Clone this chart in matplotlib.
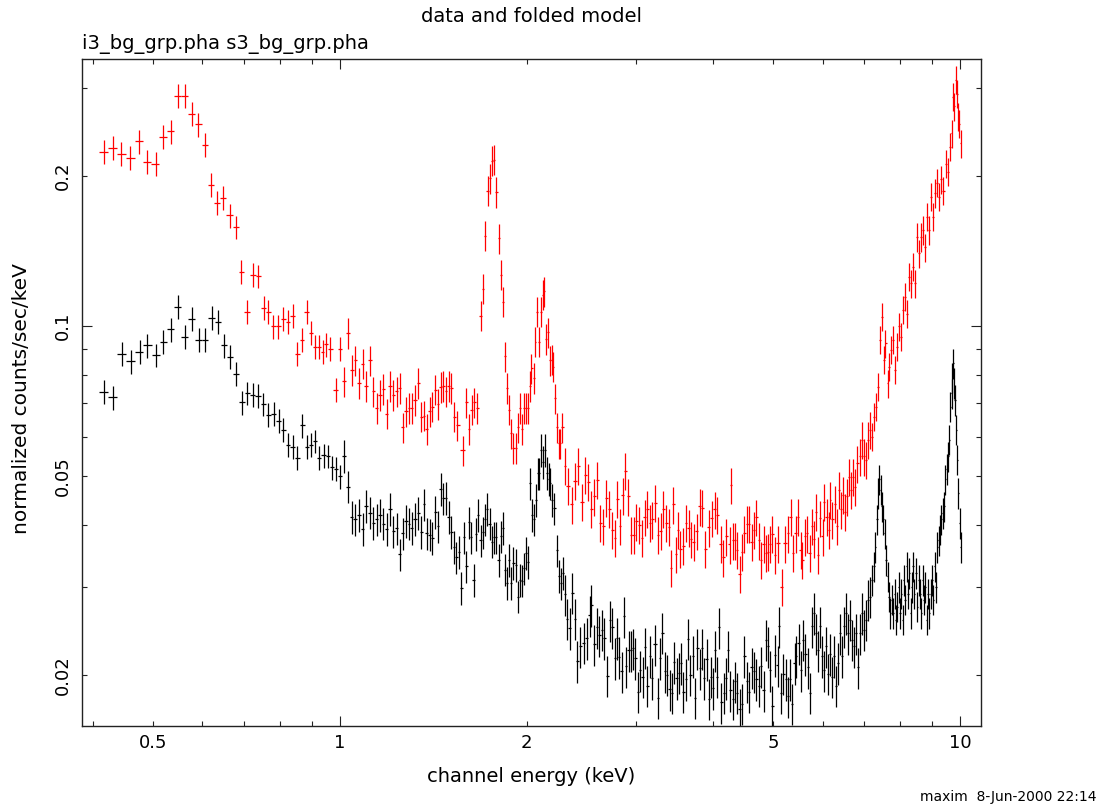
import numpy as np
import matplotlib
matplotlib.use("Agg")
import matplotlib.pyplot as plt
from matplotlib.ticker import FixedLocator, FixedFormatter

# red spectrum (upper), channel energy in keV and normalized counts/sec/keV
red_e = [0.416, 0.430, 0.444, 0.459, 0.474, 0.489, 0.504, 0.519, 0.533, 0.548,
         0.562, 0.577, 0.591, 0.605, 0.619, 0.634, 0.648, 0.664, 0.679, 0.693,
         0.709, 0.724, 0.738, 0.753, 0.766, 0.781, 0.795, 0.810, 0.824, 0.839,
         0.853, 0.868, 0.884, 0.897, 0.910, 0.924, 0.938, 0.950, 0.963, 0.985,
         1.000, 1.015, 1.030, 1.045, 1.058, 1.073, 1.088, 1.102, 1.118, 1.131,
         1.146, 1.160, 1.174, 1.189, 1.204, 1.219, 1.234, 1.248, 1.262, 1.278,
         1.292, 1.306, 1.321, 1.336, 1.351, 1.366, 1.381, 1.395, 1.409, 1.424,
         1.439, 1.454, 1.468, 1.483, 1.498, 1.512, 1.527, 1.546, 1.577, 1.599,
         1.614, 1.630, 1.647, 1.663, 1.686, 1.700, 1.715, 1.730, 1.745, 1.760,
         1.773, 1.786, 1.805, 1.818, 1.832, 1.848, 1.862, 1.876, 1.890, 1.904,
         1.921, 1.935, 1.950, 1.964, 1.979, 1.994, 2.009, 2.024, 2.036, 2.052,
         2.066, 2.079, 2.094, 2.110, 2.123, 2.136, 2.152, 2.165, 2.181, 2.195,
         2.208, 2.225, 2.238, 2.253, 2.267, 2.284, 2.303, 2.333, 2.364, 2.394,
         2.424, 2.455, 2.486, 2.515, 2.543, 2.571, 2.599, 2.624, 2.658, 2.689,
         2.717, 2.750, 2.776, 2.802, 2.829, 2.857, 2.886, 2.917, 2.945, 2.975,
         3.007, 3.036, 3.07, 3.10, 3.13, 3.16, 3.19, 3.22, 3.26, 3.29,
         3.32, 3.36, 3.39, 3.42, 3.45, 3.48, 3.51, 3.54, 3.58, 3.61,
         3.65, 3.68, 3.72, 3.76, 3.80, 3.84, 3.88, 3.93, 3.98, 4.02,
         4.06, 4.11, 4.15, 4.20, 4.25, 4.27, 4.30, 4.34, 4.37, 4.41,
         4.45, 4.49, 4.53, 4.57, 4.61, 4.65, 4.69, 4.74, 4.78, 4.82,
         4.86, 4.90, 4.94, 4.98, 5.03, 5.08, 5.16, 5.22, 5.28, 5.33,
         5.38, 5.43, 5.48, 5.53, 5.57, 5.62, 5.67, 5.72, 5.77, 5.82,
         5.86, 5.91, 5.95, 6.00, 6.04, 6.09, 6.14, 6.18, 6.22, 6.28,
         6.33, 6.38, 6.42, 6.47, 6.52, 6.57, 6.62, 6.67, 6.73, 6.78,
         6.83, 6.89, 6.94, 7.00, 7.05, 7.11, 7.17, 7.22, 7.26, 7.32,
         7.36, 7.43, 7.48, 7.53, 7.58, 7.64, 7.69, 7.74, 7.80, 7.86,
         7.92, 7.98, 8.04, 8.09, 8.15, 8.21, 8.28, 8.34, 8.40, 8.46,
         8.53, 8.59, 8.66, 8.72, 8.79, 8.85, 8.92, 8.99, 9.05, 9.12,
         9.19, 9.26, 9.33, 9.40, 9.48, 9.55, 9.62, 9.69, 9.74, 9.79,
         9.84, 9.88, 9.93, 9.97, 10.02]
red_rate = [0.224, 0.228, 0.222, 0.218, 0.235, 0.214, 0.212, 0.240, 0.246, 0.290,
            0.290, 0.267, 0.254, 0.231, 0.192, 0.177, 0.181, 0.167, 0.158, 0.1287,
            0.107, 0.127, 0.126, 0.109, 0.107, 0.100, 0.100, 0.1034, 0.102, 0.105,
            0.088, 0.094, 0.107, 0.097, 0.091, 0.091, 0.089, 0.092, 0.090, 0.0746,
            0.090, 0.0775, 0.097, 0.0817, 0.0855, 0.077, 0.0842, 0.0759, 0.0855, 0.074,
            0.0686, 0.0728, 0.0748, 0.0668, 0.0759, 0.0728, 0.074, 0.0752, 0.0627, 0.0675,
            0.0686, 0.0686, 0.0711, 0.077, 0.0659, 0.0662, 0.0622, 0.0675, 0.069, 0.0746,
            0.0698, 0.0755, 0.0759, 0.074, 0.0759, 0.0752, 0.0659, 0.0633, 0.0564, 0.0704,
            0.0622, 0.068, 0.0704, 0.0686, 0.105, 0.119, 0.152, 0.187, 0.198, 0.215,
            0.216, 0.186, 0.150, 0.127, 0.112, 0.0871, 0.0752, 0.068, 0.061, 0.057,
            0.057, 0.0627, 0.0686, 0.0622, 0.0686, 0.0686, 0.0686, 0.0759, 0.0823, 0.0787,
            0.0932, 0.107, 0.0932, 0.107, 0.1157, 0.1175, 0.0943, 0.0973, 0.0855, 0.0857,
            0.083, 0.0717, 0.0627, 0.0582, 0.0582, 0.0627, 0.0525, 0.0478, 0.0439, 0.0489,
            0.0525, 0.0445, 0.0504, 0.0487, 0.043, 0.0456, 0.0492, 0.0403, 0.0397, 0.0453,
            0.043, 0.039, 0.0376, 0.045, 0.0397, 0.0458, 0.0513, 0.0456, 0.0382, 0.0382,
            0.0406, 0.040, 0.0376, 0.0414, 0.043, 0.0403, 0.041, 0.0442, 0.0382, 0.0389,
            0.043, 0.0403, 0.0396, 0.0328, 0.0439, 0.0349, 0.0391, 0.0358, 0.0363, 0.0403,
            0.0394, 0.0374, 0.0369, 0.0388, 0.0435, 0.0432, 0.0358, 0.0395, 0.0412, 0.0429,
            0.0418, 0.0366, 0.0344, 0.0379, 0.0365, 0.0480, 0.0372, 0.0372, 0.0356, 0.0319,
            0.0353, 0.0384, 0.0402, 0.0402, 0.0370, 0.0391, 0.0414, 0.0372, 0.034, 0.0366,
            0.0351, 0.0353, 0.0366, 0.0383, 0.0348, 0.0367, 0.0300, 0.0367, 0.0384, 0.0415,
            0.0351, 0.0384, 0.0415, 0.0356, 0.034, 0.0379, 0.0384, 0.0351, 0.0397, 0.0375,
            0.0425, 0.0348, 0.0412, 0.0379, 0.0445, 0.0415, 0.0391, 0.0448, 0.041, 0.0441,
            0.0397, 0.047, 0.0429, 0.0459, 0.0425, 0.0456, 0.0499, 0.047, 0.0499, 0.0477,
            0.0531, 0.0548, 0.0592, 0.0548, 0.054, 0.0592, 0.062, 0.060, 0.0659, 0.069,
            0.0757, 0.094, 0.1045, 0.0856, 0.0924, 0.0769, 0.083, 0.0897, 0.094, 0.0818,
            0.091, 0.100, 0.0953, 0.108, 0.1146, 0.106, 0.1257, 0.122, 0.1317, 0.122,
            0.151, 0.140, 0.151, 0.156, 0.144, 0.166, 0.156, 0.182, 0.166, 0.185,
            0.194, 0.182, 0.197, 0.187, 0.212, 0.204, 0.229, 0.244, 0.289, 0.276,
            0.312, 0.293, 0.263, 0.255, 0.233]

# black spectrum (lower)
black_e = [0.416, 0.430, 0.445, 0.460, 0.475, 0.489, 0.505, 0.519, 0.533, 0.547,
           0.562, 0.577, 0.592, 0.606, 0.621, 0.635, 0.650, 0.665, 0.679, 0.694,
           0.709, 0.723, 0.738, 0.752, 0.766, 0.782, 0.796, 0.810, 0.824, 0.839,
           0.853, 0.869, 0.885, 0.898, 0.912, 0.926, 0.941, 0.955, 0.971, 0.985,
           1.000, 1.015, 1.029, 1.044, 1.058, 1.073, 1.088, 1.102, 1.118, 1.131,
           1.146, 1.160, 1.174, 1.189, 1.204, 1.219, 1.234, 1.248, 1.263, 1.278,
           1.292, 1.306, 1.321, 1.336, 1.351, 1.366, 1.381, 1.395, 1.409, 1.424,
           1.439, 1.454, 1.468, 1.483, 1.498, 1.512, 1.527, 1.540, 1.554, 1.567,
           1.585, 1.599, 1.612, 1.628, 1.642, 1.657, 1.670, 1.686, 1.700, 1.715,
           1.728, 1.743, 1.758, 1.773, 1.786, 1.802, 1.818, 1.832, 1.848, 1.862,
           1.876, 1.890, 1.904, 1.921, 1.935, 1.950, 1.964, 1.979, 1.994, 2.009,
           2.024, 2.039, 2.054, 2.070, 2.083, 2.094, 2.110, 2.123, 2.139, 2.155,
           2.171, 2.184, 2.200, 2.214, 2.242, 2.258, 2.275, 2.292, 2.309, 2.321,
           2.350, 2.370, 2.390, 2.410, 2.440, 2.470, 2.500, 2.530, 2.540, 2.570,
           2.600, 2.620, 2.650, 2.670, 2.700, 2.730, 2.750, 2.780, 2.800, 2.820,
           2.845, 2.870, 2.890, 2.920, 2.945, 2.970, 2.995, 3.020, 3.050, 3.075,
           3.100, 3.130, 3.160, 3.180, 3.220, 3.260, 3.280, 3.310, 3.340, 3.370,
           3.400, 3.430, 3.460, 3.490, 3.520, 3.550, 3.580, 3.610, 3.640, 3.670,
           3.710, 3.740, 3.770, 3.810, 3.840, 3.870, 3.900, 3.930, 3.960, 4.000,
           4.030, 4.060, 4.090, 4.120, 4.160, 4.190, 4.220, 4.260, 4.300, 4.330,
           4.370, 4.410, 4.450, 4.490, 4.530, 4.570, 4.610, 4.650, 4.690, 4.740,
           4.780, 4.820, 4.860, 4.900, 4.940, 4.980, 5.030, 5.080, 5.11, 5.15,
           5.19, 5.24, 5.28, 5.32, 5.36, 5.41, 5.44, 5.49, 5.54, 5.59,
           5.63, 5.68, 5.73, 5.77, 5.81, 5.86, 5.90, 5.95, 5.99, 6.04,
           6.08, 6.13, 6.17, 6.22, 6.26, 6.31, 6.36, 6.40, 6.45, 6.50,
           6.55, 6.60, 6.65, 6.70, 6.75, 6.80, 6.85, 6.90, 6.95, 7.01,
           7.06, 7.11, 7.16, 7.22, 7.26, 7.30, 7.35, 7.38, 7.41, 7.45,
           7.48, 7.52, 7.56, 7.60, 7.64, 7.68, 7.72, 7.76, 7.80, 7.84,
           7.88, 7.92, 7.96, 8.00, 8.04, 8.08, 8.12, 8.15, 8.20, 8.24,
           8.28, 8.32, 8.36, 8.40, 8.44, 8.49, 8.53, 8.57, 8.61, 8.66,
           8.70, 8.74, 8.79, 8.83, 8.87, 8.92, 8.96, 9.01, 9.05, 9.10,
           9.14, 9.19, 9.23, 9.28, 9.33, 9.37, 9.42, 9.46, 9.51, 9.56,
           9.60, 9.65, 9.69, 9.72, 9.75, 9.78, 9.81, 9.86, 9.90, 9.94,
           9.99, 10.02]
black_rate = [0.0738, 0.072, 0.088, 0.085, 0.089, 0.0916, 0.0875, 0.093, 0.0986, 0.1095,
              0.0952, 0.1036, 0.094, 0.094, 0.104, 0.102, 0.0916, 0.0868, 0.0804, 0.0704,
              0.0734, 0.0728, 0.0726, 0.0698, 0.0665, 0.0667, 0.0647, 0.062, 0.0579, 0.0573,
              0.0544, 0.0633, 0.0573, 0.0578, 0.0588, 0.0545, 0.0551, 0.0549, 0.0521, 0.0518,
              0.050, 0.0549, 0.0477, 0.0415, 0.041, 0.0418, 0.0392, 0.0436, 0.0423, 0.0403,
              0.041, 0.0418, 0.0402, 0.0392, 0.043, 0.0388, 0.0393, 0.0349, 0.0384, 0.0407,
              0.0402, 0.0394, 0.0411, 0.0422, 0.0387, 0.0439, 0.0384, 0.0382, 0.0376, 0.0424,
              0.0397, 0.0472, 0.0452, 0.0453, 0.0415, 0.0387, 0.0361, 0.0344, 0.0353, 0.0299,
              0.0377, 0.033, 0.0404, 0.0377, 0.031, 0.0383, 0.0418, 0.0372, 0.0386, 0.041,
              0.043, 0.0402, 0.037, 0.0377, 0.0377, 0.034, 0.0379, 0.0394, 0.0325, 0.0306,
              0.034, 0.0306, 0.0335, 0.0332, 0.0287, 0.031, 0.0309, 0.0327, 0.0351, 0.0337,
              0.0484, 0.0418, 0.041, 0.0448, 0.0507, 0.0507, 0.0565, 0.0535, 0.0565, 0.0508,
              0.0494, 0.0484, 0.0448, 0.0431, 0.0355, 0.0316, 0.0305, 0.032, 0.029, 0.0259,
              0.0248, 0.0292, 0.0259, 0.0213, 0.0228, 0.0232, 0.0237, 0.0263, 0.0276, 0.023,
              0.0249, 0.024, 0.0246, 0.0237, 0.0199, 0.0257, 0.0249, 0.0216, 0.0237, 0.0217,
              0.0203, 0.0262, 0.0208, 0.0224, 0.0224, 0.0226, 0.0216, 0.0185, 0.0204, 0.0198,
              0.0227, 0.019, 0.0218, 0.0197, 0.023, 0.018, 0.0216, 0.0243, 0.0203, 0.020,
              0.0187, 0.0184, 0.0212, 0.0197, 0.0202, 0.0211, 0.0185, 0.0196, 0.0236, 0.020,
              0.0218, 0.018, 0.0226, 0.0206, 0.0226, 0.0197, 0.0215, 0.0179, 0.0198, 0.0188,
              0.0224, 0.0198, 0.0249, 0.0176, 0.0184, 0.0197, 0.0224, 0.0186, 0.0179, 0.0194,
              0.0184, 0.0171, 0.0175, 0.0218, 0.0194, 0.0185, 0.0207, 0.0203, 0.0196, 0.019,
              0.0208, 0.0186, 0.0235, 0.0228, 0.0204, 0.0173, 0.0219, 0.0209, 0.025, 0.0184,
              0.0201, 0.0196, 0.0181, 0.0196, 0.0175, 0.0211, 0.0218, 0.0231, 0.0204, 0.0235,
              0.022, 0.0207, 0.0184, 0.025, 0.0266, 0.0242, 0.0224, 0.025, 0.0218, 0.0204,
              0.0228, 0.0201, 0.022, 0.0198, 0.0218, 0.019, 0.0211, 0.0242, 0.0218, 0.025,
              0.0266, 0.0242, 0.0258, 0.0235, 0.0228, 0.0242, 0.0207, 0.0242, 0.0266, 0.0246,
              0.0258, 0.0283, 0.0287, 0.031, 0.033, 0.0361, 0.041, 0.0463, 0.0493, 0.047,
              0.0435, 0.041, 0.0384, 0.034, 0.0315, 0.0287, 0.0266, 0.0283, 0.0266, 0.0291,
              0.0258, 0.0274, 0.030, 0.0266, 0.0291, 0.0258, 0.031, 0.0283, 0.033, 0.0291,
              0.032, 0.0266, 0.030, 0.033, 0.0291, 0.032, 0.0274, 0.031, 0.0291, 0.0266,
              0.031, 0.0283, 0.030, 0.0258, 0.0291, 0.0266, 0.0291, 0.031, 0.0283, 0.033,
              0.030, 0.0361, 0.0372, 0.0391, 0.041, 0.0422, 0.0435, 0.0493, 0.0517, 0.0548,
              0.0592, 0.069, 0.0734, 0.0790, 0.0843, 0.0769, 0.0712, 0.062, 0.054, 0.0463,
              0.0403, 0.0361]

# relative half-length of the error bars, per energy band (<1, 1-2.3, 2.3-7.2, >7.2 keV)
band_edges = [1.0, 2.3, 7.2]
red_err = [0.055, 0.07, 0.085, 0.065]
black_err = [0.055, 0.075, 0.095, 0.07]

x_major = [1, 10]
x_minor = [0.4, 0.5, 0.6, 0.7, 0.8, 0.9, 2, 3, 4, 5, 6, 7, 8, 9]
x_minor_labels = ['', '0.5', '', '', '', '', '2', '', '', '5', '', '', '', '']
y_major = [0.1]
y_minor = [0.02, 0.03, 0.04, 0.05, 0.06, 0.07, 0.08, 0.09, 0.2, 0.3]
y_minor_labels = ['0.02', '', '', '0.05', '', '', '', '', '0.2', '']

plt.rcParams['font.family'] = 'DejaVu Sans'


def bin_halfwidths(e):
    # bins assumed contiguous: edges half way (in log) between neighbours
    e = np.asarray(e)
    mids = np.sqrt(e[1:] * e[:-1])
    lo = np.concatenate([[e[0] ** 2 / mids[0]], mids])
    hi = np.concatenate([mids, [e[-1] ** 2 / mids[-1]]])
    return np.vstack([e - lo, hi - e])


def draw_spec(ax, e, r, frac, color):
    e = np.asarray(e)
    r = np.asarray(r)
    f = np.asarray(frac)[np.searchsorted(band_edges, e)]
    ax.errorbar(e, r, xerr=bin_halfwidths(e), yerr=r * f, fmt='none',
                ecolor=color, elinewidth=0.9, capsize=0)


fig = plt.figure(figsize=(11, 8.09), dpi=100)
ax = fig.add_axes([82 / 1100, 1 - 726 / 809, 899.3 / 1100, 667 / 809])

draw_spec(ax, black_e, black_rate, black_err, 'black')
draw_spec(ax, red_e, red_rate, red_err, 'red')

ax.set_xscale('log')
ax.set_yscale('log')
ax.set_xlim(0.3836, 10.82)
ax.set_ylim(0.01578, 0.3437)

ax.xaxis.set_major_locator(FixedLocator(x_major))
ax.xaxis.set_major_formatter(FixedFormatter(['1', '10']))
ax.xaxis.set_minor_locator(FixedLocator(x_minor))
ax.xaxis.set_minor_formatter(FixedFormatter(x_minor_labels))
ax.yaxis.set_major_locator(FixedLocator(y_major))
ax.yaxis.set_major_formatter(FixedFormatter(['0.1']))
ax.yaxis.set_minor_locator(FixedLocator(y_minor))
ax.yaxis.set_minor_formatter(FixedFormatter(y_minor_labels))

ax.tick_params(which='both', direction='in', top=True, right=True,
               width=0.8, labelsize=13, color='#222222')
ax.tick_params(which='major', length=7)
ax.tick_params(which='minor', length=3.3)
ax.tick_params(axis='x', which='both', pad=6)
ax.tick_params(axis='y', which='both', pad=7)
for t in ax.get_yticklabels(which='both'):
    t.set_rotation(90)
    t.set_va('center')
for sp in ax.spines.values():
    sp.set_linewidth(1.0)
    sp.set_color('#222222')

fig.text(531.5 / 1100, 1 - 22 / 809, 'data and folded model', ha='center',
         va='baseline', fontsize=14)
fig.text(82 / 1100, 1 - 48.5 / 809, 'i3_bg_grp.pha s3_bg_grp.pha', ha='left',
         va='baseline', fontsize=14)
fig.text(531.5 / 1100, 1 - 782 / 809, 'channel energy (keV)', ha='center',
         va='baseline', fontsize=14)
fig.text(22 / 1100, 1 - 399 / 809, 'normalized counts/sec/keV', rotation=90,
         ha='center', va='center', fontsize=14.5)
fig.text(1097 / 1100, 1 - 801 / 809, 'maxim  8-Jun-2000 22:14', ha='right',
         va='baseline', fontsize=10)

fig.savefig('out.png', dpi=100)
